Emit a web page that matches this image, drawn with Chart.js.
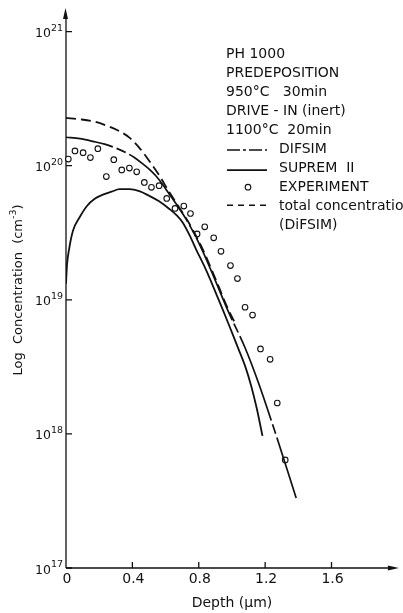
<!DOCTYPE html>
<html>
<head>
<meta charset="utf-8">
<script src="https://cdn.jsdelivr.net/npm/chart.js@4.4.0/dist/chart.umd.min.js"></script>
<style>
  html, body { margin: 0; padding: 0; background: #fff; }
  #wrap { width: 403px; height: 613px; position: relative; }
</style>
</head>
<body>
<div id="wrap"><canvas id="myChart"></canvas></div>
<script>
// depth in um, concentration in cm^-3
const totalDepth = [0, 0.084, 0.173, 0.263, 0.322, 0.382, 0.442, 0.501, 0.561, 0.621, 0.681, 0.740, 0.820, 0.900, 0.979, 1.015];
const totalConc  = [2.27e20, 2.22e20, 2.13e20, 1.95e20, 1.81e20, 1.62e20, 1.36e20, 1.09e20, 8.5e19, 6.4e19, 4.9e19, 3.76e19, 2.44e19, 1.44e19, 8.4e18, 6.85e18];

const difsimDepth = [0, 0.084, 0.161, 0.233, 0.303, 0.362, 0.412, 0.461, 0.501, 0.541, 0.579, 0.621, 0.681, 0.740, 0.820, 0.900, 0.979, 1.079, 1.158, 1.258, 1.387];
const difsimConc  = [1.63e20, 1.59e20, 1.52e20, 1.45e20, 1.35e20, 1.25e20, 1.15e20, 1.035e20, 9.42e19, 8.41e19, 7.34e19, 6.18e19, 4.82e19, 3.69e19, 2.36e19, 1.39e19, 8.13e18, 4.39e18, 2.44e18, 1.05e18, 3.33e17];

const supremDepth = [0, 0.006, 0.018, 0.042, 0.084, 0.125, 0.173, 0.223, 0.275, 0.322, 0.382, 0.442, 0.501, 0.561, 0.621, 0.669, 0.704, 0.746, 0.788, 0.830, 0.872, 0.910, 0.949, 0.991, 1.039, 1.081, 1.116, 1.149, 1.184];
const supremConc  = [1.32e19, 1.82e19, 2.36e19, 3.27e19, 4.16e19, 4.99e19, 5.68e19, 6.08e19, 6.40e19, 6.68e19, 6.68e19, 6.46e19, 5.97e19, 5.43e19, 4.78e19, 4.24e19, 3.76e19, 3.01e19, 2.32e19, 1.82e19, 1.39e19, 1.07e19, 8.2e18, 6.08e18, 4.31e18, 3.16e18, 2.28e18, 1.56e18, 9.66e17];

const expDepth = [0.014, 0.054, 0.103, 0.147, 0.192, 0.243, 0.288, 0.336, 0.382, 0.426, 0.472, 0.515, 0.561, 0.607, 0.657, 0.710, 0.750, 0.790, 0.836, 0.890, 0.934, 0.991, 1.033, 1.079, 1.124, 1.172, 1.230, 1.273, 1.321];
const expConc  = [1.12e20, 1.29e20, 1.25e20, 1.15e20, 1.34e20, 8.3e19, 1.11e20, 9.3e19, 9.6e19, 9.0e19, 7.5e19, 6.9e19, 7.1e19, 5.7e19, 4.8e19, 5.0e19, 4.4e19, 3.1e19, 3.5e19, 2.9e19, 2.3e19, 1.8e19, 1.44e19, 8.8e18, 7.7e18, 4.3e18, 3.6e18, 1.7e18, 6.4e17];

const xTicks = [0, 0.4, 0.8, 1.2, 1.6];
const xTickLabels = ["0", "0.4", "0.8", "1.2", "1.6"];
const yTickExps = [17, 18, 19, 20, 21];

const noteLines = ["PH 1000", "PREDEPOSITION", "950°C   30min", "DRIVE - IN (inert)", "1100°C  20min"];
const legendLabels = ["DIFSIM", "SUPREM  II", "EXPERIMENT", "total concentration", "(DiFSIM)"];

const ink = "#111";
const font = "'DejaVu Sans', sans-serif";
const pts = (xs, ys) => xs.map((v, i) => ({ x: v, y: ys[i] }));

const axesPlugin = {
  id: "axes",
  beforeDatasetsDraw(chart) {
    const { ctx, chartArea: a, scales: { x, y } } = chart;
    const x0 = x.getPixelForValue(0), yb = y.getPixelForValue(1e17);
    ctx.save();
    ctx.strokeStyle = ink; ctx.fillStyle = ink; ctx.lineWidth = 1.3;
    ctx.beginPath();
    ctx.moveTo(x0, yb); ctx.lineTo(x0, a.top + 6);
    ctx.moveTo(x0, yb); ctx.lineTo(a.right - 4, yb);
    ctx.stroke();
    // arrow heads
    ctx.beginPath();
    ctx.moveTo(x0 - 0.5, a.top); ctx.lineTo(x0 - 3, a.top + 11); ctx.lineTo(x0 + 2, a.top + 11); ctx.closePath();
    ctx.fill();
    ctx.beginPath();
    ctx.moveTo(a.right + 1, yb); ctx.lineTo(a.right - 10, yb - 2.5); ctx.lineTo(a.right - 10, yb + 2.5); ctx.closePath();
    ctx.fill();
    // inward ticks
    ctx.beginPath();
    yTickExps.forEach(e => {
      const py = y.getPixelForValue(Math.pow(10, e));
      ctx.moveTo(x0, py); ctx.lineTo(x0 + 6, py);
    });
    xTicks.forEach(v => {
      if (v === 0) return;
      const px = x.getPixelForValue(v);
      ctx.moveTo(px, yb); ctx.lineTo(px, yb - 6);
    });
    ctx.stroke();
    ctx.restore();
  },
  afterDraw(chart) {
    const { ctx, chartArea: a, scales: { x, y } } = chart;
    const x0 = x.getPixelForValue(0), yb = y.getPixelForValue(1e17);
    ctx.save();
    ctx.fillStyle = ink; ctx.strokeStyle = ink;
    ctx.textBaseline = "alphabetic";
    // y tick labels 10^n
    yTickExps.forEach(e => {
      const py = y.getPixelForValue(Math.pow(10, e));
      ctx.font = "12.5px " + font; ctx.textAlign = "right";
      ctx.fillText("10", x0 - 15, py + 5.5);
      ctx.font = "9.5px " + font; ctx.textAlign = "left";
      ctx.fillText(String(e), x0 - 15, py - 1);
    });
    // x tick labels
    ctx.font = "14px " + font; ctx.textAlign = "center";
    xTicks.forEach((v, i) => ctx.fillText(xTickLabels[i], x.getPixelForValue(v) + 1, yb + 15));
    // x title
    ctx.fillText("Depth (μm)", (a.left + a.right) / 2, 607);
    // y title, rotated
    ctx.save();
    ctx.translate(22, 290);
    ctx.rotate(-Math.PI / 2);
    const t1 = "Log  Concentration  (cm", t2 = "-3", t3 = ")";
    ctx.font = "13px " + font;
    const w1 = ctx.measureText(t1).width, w3 = ctx.measureText(t3).width;
    ctx.font = "9.5px " + font;
    const w2 = ctx.measureText(t2).width;
    let sx = -(w1 + w2 + w3) / 2;
    ctx.textAlign = "left";
    ctx.font = "13px " + font; ctx.fillText(t1, sx, 0); sx += w1;
    ctx.font = "9.5px " + font; ctx.fillText(t2, sx, -6); sx += w2;
    ctx.font = "13px " + font; ctx.fillText(t3, sx, 0);
    ctx.restore();
    // notes
    ctx.font = "14px " + font; ctx.textAlign = "left";
    const b0 = 57.5, step = 19.1;
    noteLines.forEach((s, i) => ctx.fillText(s, 226, b0 + i * step));
    legendLabels.forEach((s, i) => ctx.fillText(s, 279, b0 + (i + 5) * step));
    // legend samples
    ctx.lineWidth = 1.6;
    let ly = b0 + 5 * step - 3;
    ctx.setLineDash([13, 3, 3, 3]);
    ctx.beginPath(); ctx.moveTo(227, ly); ctx.lineTo(267, ly); ctx.stroke();
    ly = b0 + 6 * step - 2;
    ctx.setLineDash([]);
    ctx.beginPath(); ctx.moveTo(227, ly); ctx.lineTo(267, ly); ctx.stroke();
    ly = b0 + 7 * step - 4;
    ctx.lineWidth = 1.1;
    ctx.beginPath(); ctx.arc(248, ly, 2.8, 0, Math.PI * 2); ctx.stroke();
    ly = b0 + 8 * step - 5;
    ctx.lineWidth = 1.6;
    ctx.setLineDash([6, 5]);
    ctx.beginPath(); ctx.moveTo(227, ly); ctx.lineTo(266, ly); ctx.stroke();
    ctx.restore();
  }
};

const config = {
  type: "scatter",
  data: {
    datasets: [
      {
        label: "total concentration (DiFSIM)",
        data: pts(totalDepth, totalConc),
        showLine: true,
        borderColor: ink,
        borderWidth: 1.8,
        borderDash: [10, 5],
        pointRadius: 0,
        cubicInterpolationMode: "monotone"
      },
      {
        label: "DIFSIM",
        data: pts(difsimDepth, difsimConc),
        showLine: true,
        borderColor: ink,
        borderWidth: 1.7,
        borderDash: [90, 4, 10, 4],
        borderDashOffset: 42,
        pointRadius: 0,
        cubicInterpolationMode: "monotone"
      },
      {
        label: "SUPREM II",
        data: pts(supremDepth, supremConc),
        showLine: true,
        borderColor: ink,
        borderWidth: 1.8,
        pointRadius: 0,
        cubicInterpolationMode: "monotone"
      },
      {
        label: "EXPERIMENT",
        data: pts(expDepth, expConc),
        showLine: false,
        pointStyle: "circle",
        pointRadius: 2.8,
        pointBorderWidth: 1.1,
        pointBorderColor: ink,
        pointBackgroundColor: "#fff",
        clip: 6
      }
    ]
  },
  options: {
    responsive: true,
    maintainAspectRatio: false,
    animation: false,
    events: [],
    layout: { padding: { left: 66, right: 2, top: 8, bottom: 45 } },
    plugins: { legend: { display: false }, tooltip: { enabled: false } },
    scales: {
      x: { type: "linear", min: 0, max: 2.0, display: false },
      y: { type: "logarithmic", min: 1e17, max: 1.5e21, display: false }
    }
  },
  plugins: [axesPlugin]
};

Chart.defaults.font.family = font;
const myChart = new Chart(document.getElementById("myChart"), config);
</script>
</body>
</html>
